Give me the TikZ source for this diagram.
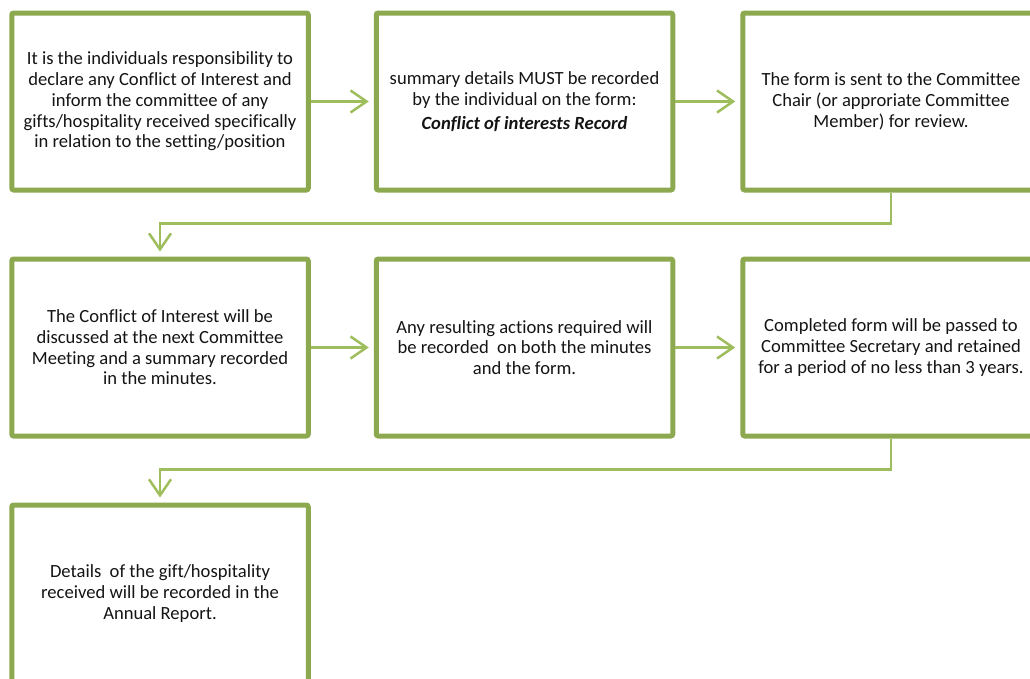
\documentclass[tikz,border=0pt]{standalone}
\usepackage{fontspec}
\setmainfont{Carlito}[Ligatures=NoCommon]
\usepackage{tikz}
\usetikzlibrary{arrows.meta, positioning}
\definecolor{boxgreen}{RGB}{141,169,80}
\definecolor{linkgreen}{RGB}{158,189,92}
\definecolor{textgray}{RGB}{20,20,20}

\begin{document}
\begin{tikzpicture}[x=1pt, y=1pt,
    stepbox/.style={draw=boxgreen, line width=5pt, rounded corners=2pt, minimum width=296.5pt, minimum height=177pt, align=center, text=textgray, font=\fontsize{18.6}{20.7}\selectfont},
    arrow/.style={draw=linkgreen, line width=2.5pt, -{Straight Barb[length=16pt, width=22pt]}, shorten >=5pt}
]
\useasboundingbox (0,0) rectangle (1030,-678);
\clip (0,0) rectangle (1030,-678);

% First row
\node[stepbox] (declare) at (160,-101.5) {It is the individuals responsibility to\\declare any Conflict of Interest and\\inform the committee of any\\gifts/hospitality received specifically\\in relation to the setting/position};
\node[stepbox, right=63pt of declare] (record) {summary details MUST be recorded\\by the individual on the form:\\[3pt]\textbf{\textit{Conflict of interests Record}}};
\node[stepbox, right=65pt of record] (review) {The form is sent to the Committee\\Chair (or approriate Committee\\Member) for review.};

% Second row
\node[stepbox, below=64pt of declare] (meeting) {The Conflict of Interest will be\\discussed at the next Committee\\Meeting and a summary recorded\\in the minutes.};
\node[stepbox, below=64pt of record] (actions) {Any resulting actions required will\\be recorded~ on both the minutes\\and the form.};
\node[stepbox, below=64pt of review] (retain) {Completed form will be passed to\\Committee Secretary and retained\\for a period of no less than 3 years.};

% Third row
\node[stepbox, below=64pt of meeting] (report) {Details~ of the gift/hospitality\\received will be recorded in the\\Annual Report.};

% Arrows
\draw[arrow] (declare.east) -- (record.west);
\draw[arrow] (record.east) -- (review.west);
\draw[arrow] (review.south) -- ++(0,-31) -| (meeting.north);
\draw[arrow] (meeting.east) -- (actions.west);
\draw[arrow] (actions.east) -- (retain.west);
\draw[arrow] (retain.south) -- ++(0,-31) -| (report.north);

\end{tikzpicture}
\end{document}
